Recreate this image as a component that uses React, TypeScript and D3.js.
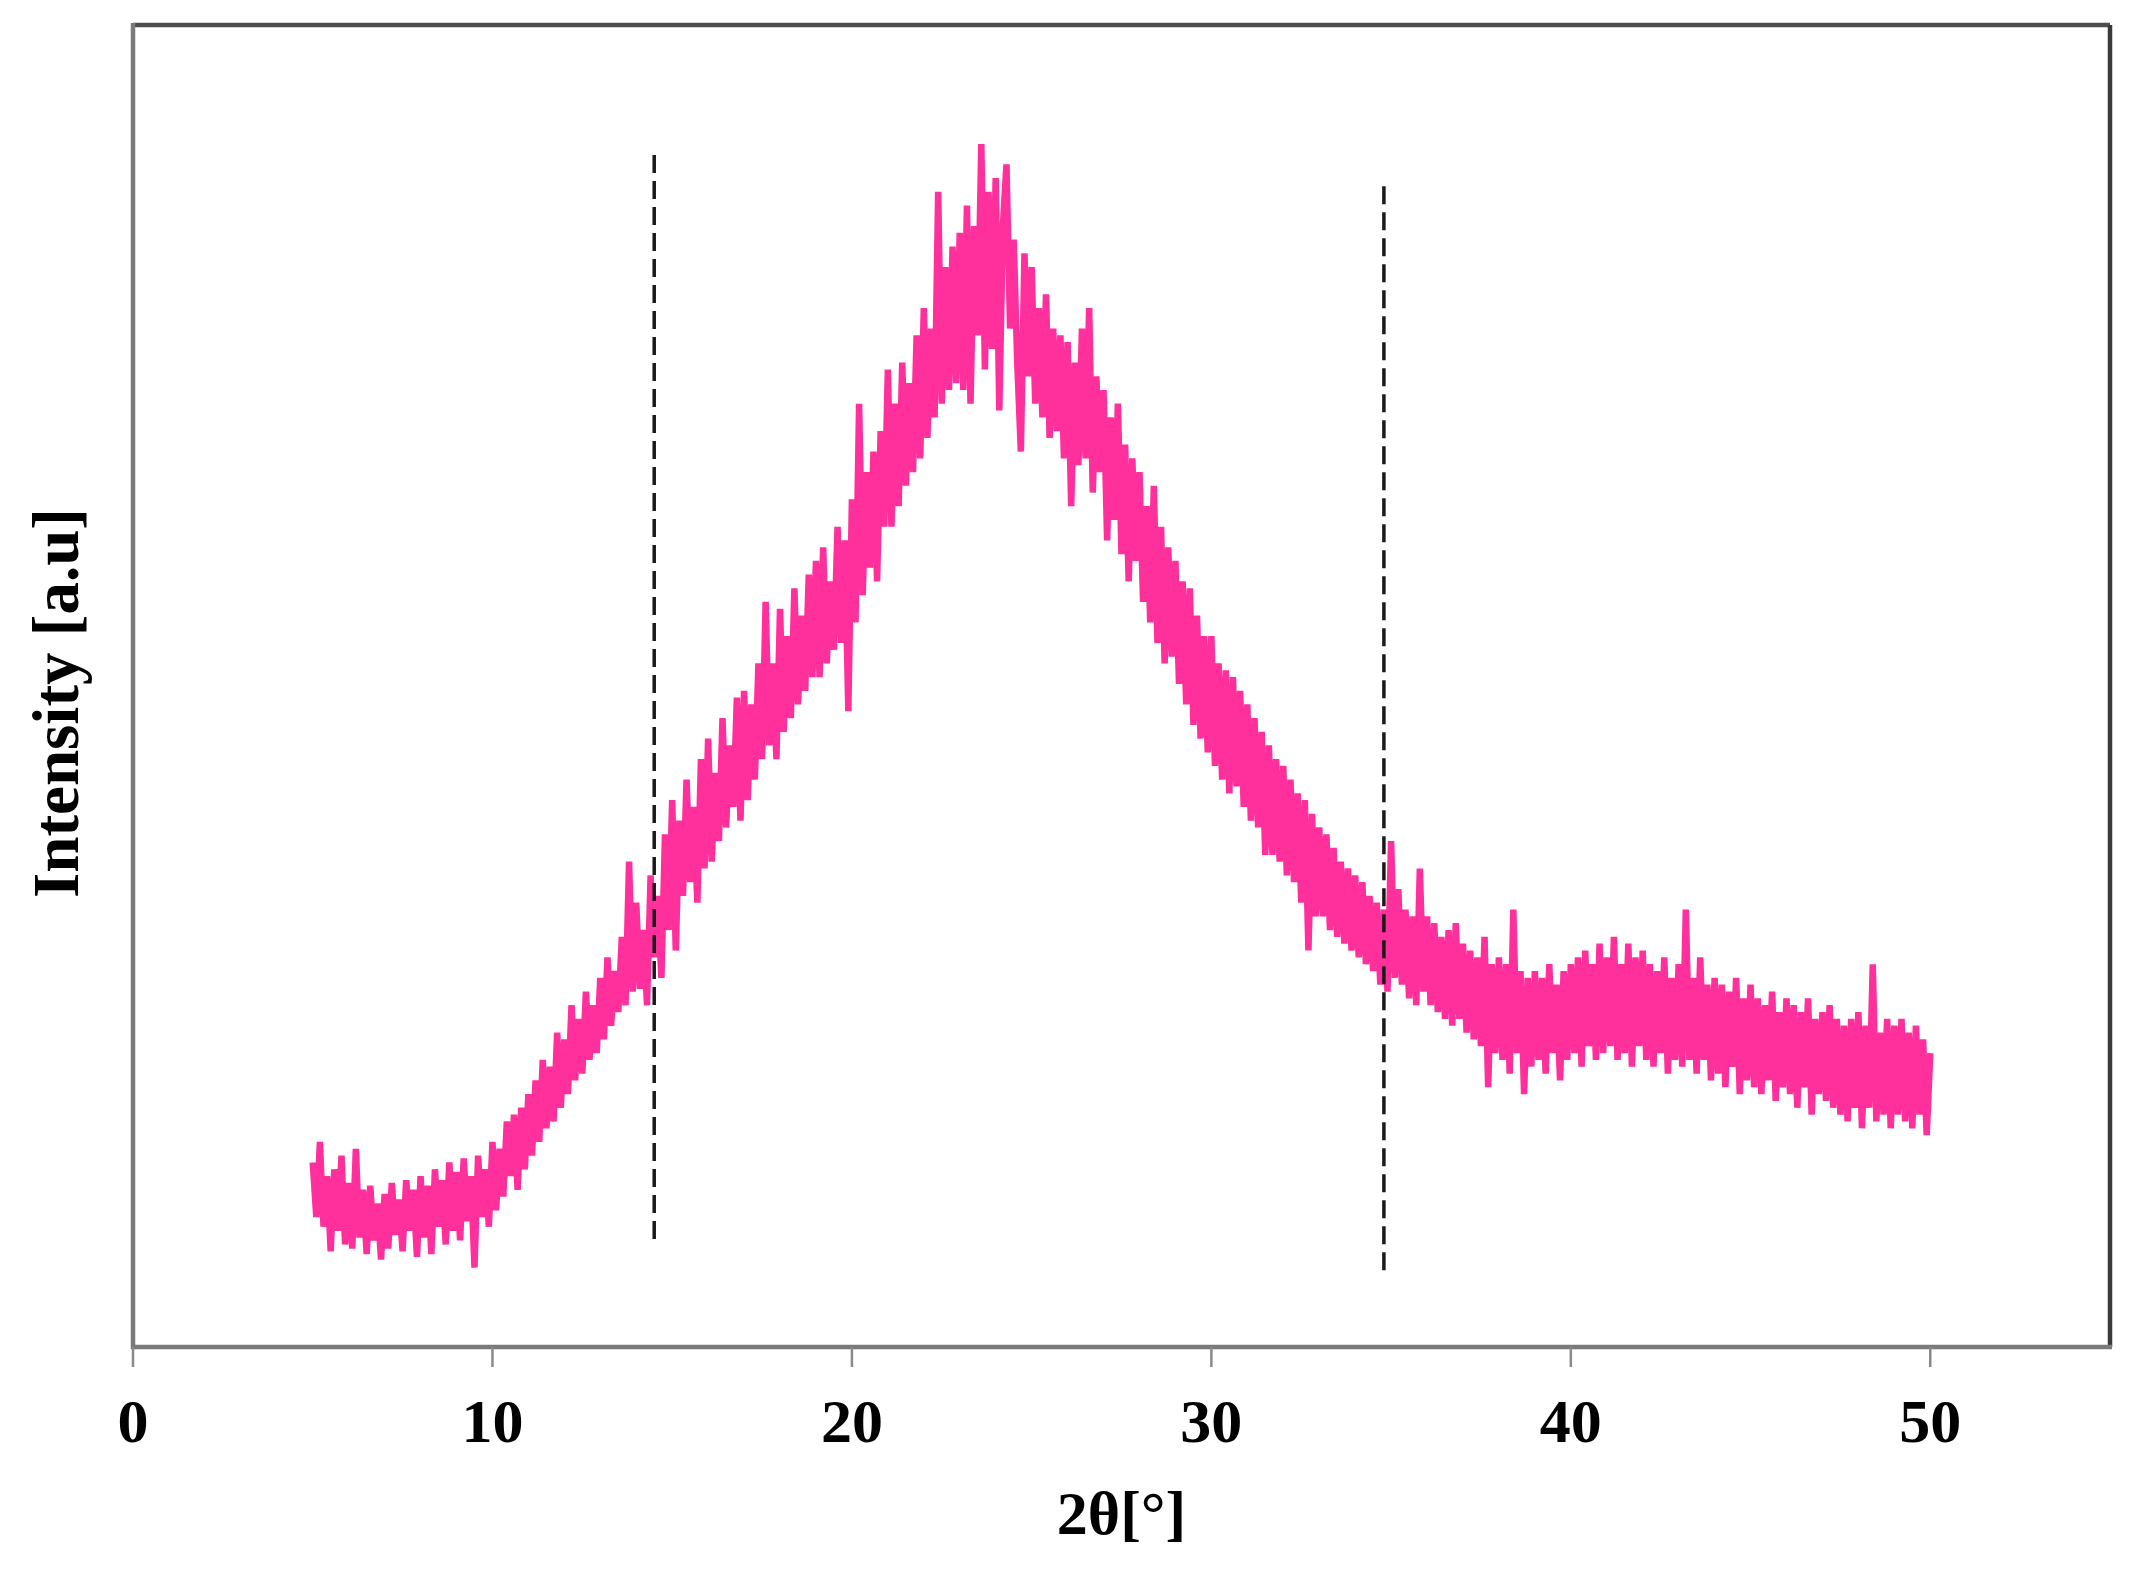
import React from "react";
import * as d3 from "d3";

const angleStart = 5;
const angleStep = 0.1;
const intensity: number[] = [
  // 5.x
  135, 95, 150, 88, 125, 70, 130, 85, 140, 75,
  // 6.x
  120, 72, 145, 80, 115, 68, 118, 78, 105, 64,
  // 7.x
  112, 72, 120, 82, 108, 70, 122, 85, 115, 66,
  // 8.x
  125, 80, 118, 68, 130, 88, 122, 75, 135, 85,
  // 9.x
  128, 78, 138, 92, 125, 58, 140, 95, 130, 88,
  // 10.x
  150, 100, 145, 110, 165, 125, 170, 115, 175, 130,
  // 11.x
  185, 140, 195, 150, 210, 160, 205, 165, 230, 175,
  // 12.x
  225, 185, 250, 195, 240, 200, 260, 210, 250, 215,
  // 13.x
  270, 225, 285, 235, 275, 245, 300, 250, 355, 260,
  // 14.x
  325, 262, 305, 250, 345, 285, 330, 270, 375, 305,
  // 15.x
  400, 290, 385, 330, 415, 340, 395, 325, 430, 350,
  // 16.x
  445, 355, 420, 370, 460, 380, 440, 395, 475, 385,
  // 17.x
  480, 400, 470, 415, 500, 430, 545, 440, 500, 430,
  // 18.x
  540, 450, 520, 460, 555, 470, 535, 480, 565, 490,
  // 19.x
  575, 490, 585, 500, 560, 510, 600, 515, 590, 465,
  // 20.x
  620, 530, 690, 550, 640, 570, 655, 560, 670, 600,
  // 21.x
  715, 600, 690, 615, 720, 630, 705, 640, 740, 650,
  // 22.x
  760, 665, 745, 680, 845, 690, 790, 700, 805, 705,
  // 23.x
  815, 700, 835, 690, 820, 740, 880, 715, 845, 730,
  // 24.x
  855, 685, 820, 865, 745, 810, 720, 655, 800, 710,
  // 25.x
  790, 690, 760, 680, 770, 665, 745, 670, 740, 650,
  // 26.x
  735, 615, 720, 645, 745, 650, 760, 625, 710, 640,
  // 27.x
  700, 590, 680, 605, 690, 580, 660, 560, 650, 575,
  // 28.x
  640, 545, 615, 530, 630, 515, 600, 500, 585, 505,
  // 29.x
  575, 485, 560, 470, 555, 455, 535, 445, 520, 435,
  // 30.x
  520, 425, 500, 415, 495, 405, 490, 410, 480, 395,
  // 31.x
  470, 385, 460, 380, 450, 360, 440, 360, 430, 355,
  // 32.x
  425, 345, 415, 340, 405, 325, 400, 290, 390, 315,
  // 33.x
  380, 315, 375, 305, 365, 300, 355, 295, 350, 290,
  // 34.x
  345, 285, 340, 280, 330, 275, 325, 265, 320, 260,
  // 35.x
  370, 270, 335, 265, 320, 255, 315, 250, 350, 260,
  // 36.x
  315, 250, 310, 245, 300, 240, 305, 235, 310, 240,
  // 37.x
  295, 230, 290, 225, 285, 220, 300, 190, 280, 215,
  // 38.x
  285, 210, 280, 200, 320, 215, 275, 185, 270, 205,
  // 39.x
  275, 210, 270, 200, 280, 215, 265, 195, 275, 210,
  // 40.x
  280, 215, 285, 205, 290, 220, 280, 210, 295, 215,
  // 41.x
  285, 220, 300, 210, 280, 215, 295, 205, 285, 220,
  // 42.x
  290, 210, 280, 205, 275, 215, 285, 200, 270, 210,
  // 43.x
  280, 205, 320, 210, 270, 200, 285, 210, 265, 195,
  // 44.x
  270, 200, 265, 190, 260, 205, 270, 185, 255, 195,
  // 45.x
  265, 190, 255, 185, 250, 195, 260, 180, 245, 190,
  // 46.x
  255, 185, 250, 175, 245, 190, 255, 170, 240, 185,
  // 47.x
  245, 180, 250, 175, 240, 170, 235, 165, 240, 175,
  // 48.x
  245, 160, 235, 175, 280, 165, 230, 170, 240, 160,
  // 49.x
  235, 170, 240, 165, 230, 160, 235, 170, 225, 155,
  // 50.0
  215,
];

// Marked region boundaries (2θ) with their top / bottom extents in intensity units
const markerAngles = [14.5, 34.8];
const markerTops = [872, 849];
const markerBottoms = [78, 55];

// Axis
const xDomain = [0, 55];
const yDomain = [0, 967];
const xTicks = [0, 10, 20, 30, 40, 50];
const xTitle = "2θ[°]";
const yTitle = "Intensity [a.u]";

const W = 2144;
const H = 1577;
const left = 133;
const right = 2110;
const top = 25;
const bottom = 1347;

export default function App() {
  const x = d3.scaleLinear().domain(xDomain).range([left, right]);
  const y = d3.scaleLinear().domain(yDomain).range([bottom, top]);

  const pts: [number, number][] = intensity.map((v, i) => [
    angleStart + i * angleStep,
    v,
  ]);
  const line = d3
    .line<[number, number]>()
    .x((d) => x(d[0]))
    .y((d) => y(d[1]));

  const font = "'Liberation Serif', 'Times New Roman', serif";

  return (
    <svg
      width={W}
      height={H}
      style={{ position: "absolute", left: 0, top: 0, background: "#fff" }}
    >
      <rect x={0} y={0} width={W} height={H} fill="#fff" />
      {/* data */}
      <path
        d={line(pts) ?? ""}
        fill="none"
        stroke="#ff2f9c"
        strokeWidth={6.5}
        strokeLinejoin="bevel"
      />
      {/* dashed markers */}
      {markerAngles.map((a, i) => (
        <line
          key={i}
          x1={x(a)}
          x2={x(a)}
          y1={y(markerTops[i])}
          y2={y(markerBottoms[i])}
          stroke="#1a1a1a"
          strokeWidth={3.5}
          strokeDasharray="18 8"
        />
      ))}
      {/* frame */}
      <line x1={left} x2={right} y1={top} y2={top} stroke="#4d4d4d" strokeWidth={4.5} />
      <line x1={right} x2={right} y1={top} y2={bottom} stroke="#3a3a3a" strokeWidth={4.5} />
      <line x1={left} x2={left} y1={top - 2} y2={bottom + 2} stroke="#7a7a7a" strokeWidth={4.5} />
      <line x1={left - 2} x2={right + 2} y1={bottom} y2={bottom} stroke="#7a7a7a" strokeWidth={4.5} />
      {/* x ticks */}
      {xTicks.map((t) => (
        <g key={t}>
          <line
            x1={x(t)}
            x2={x(t)}
            y1={bottom}
            y2={bottom + 20}
            stroke="#8a8a8a"
            strokeWidth={2.5}
          />
          <text
            x={x(t)}
            y={1442}
            textAnchor="middle"
            fontFamily={font}
            fontWeight="bold"
            fontSize={62}
            fill="#000"
          >
            {t}
          </text>
        </g>
      ))}
      <text
        x={(left + right) / 2}
        y={1534}
        textAnchor="middle"
        fontFamily={font}
        fontWeight="bold"
        fontSize={62}
        fill="#000"
      >
        {xTitle}
      </text>
      <text
        transform={`translate(78, 703) rotate(-90)`}
        textAnchor="middle"
        fontFamily={font}
        fontWeight="bold"
        fontSize={65}
        fill="#000"
      >
        {yTitle}
      </text>
    </svg>
  );
}
